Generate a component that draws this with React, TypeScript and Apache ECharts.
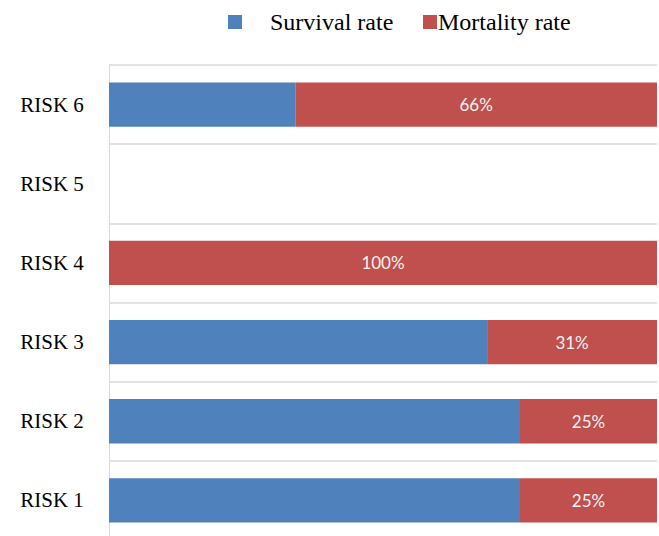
import React, { useEffect, useRef } from "react";
import * as echarts from "echarts";

const categories = ["RISK 1", "RISK 2", "RISK 3", "RISK 4", "RISK 5", "RISK 6"];
const survivalRate = [75, 75, 69, 0, null, 34];
const mortalityRate = [25, 25, 31, 100, null, 66];
const seriesNames = ["Survival rate", "Mortality rate"];

export default function App() {
  const ref = useRef<HTMLDivElement>(null);
  useEffect(() => {
    if (!ref.current) return;
    const chart = echarts.init(ref.current, undefined, { renderer: "svg" });
    chart.setOption({
      animation: false,
      backgroundColor: "#ffffff",
      legend: [
        {
          data: [seriesNames[0]],
          left: 228,
          top: 10,
          itemWidth: 14,
          itemHeight: 14,
          padding: 0,
          icon: "rect",
          textStyle: {
            fontFamily: "Liberation Serif",
            fontSize: 24,
            color: "#000000",
            padding: [0, 0, 0, 23],
          },
        },
        {
          data: [seriesNames[1]],
          left: 423,
          top: 10,
          itemWidth: 14,
          itemHeight: 14,
          padding: 0,
          icon: "rect",
          textStyle: {
            fontFamily: "Liberation Serif",
            fontSize: 24,
            color: "#000000",
            padding: [0, 0, 0, -4],
          },
        },
      ],
      grid: { left: 109, top: 65, width: 548, height: 475, containLabel: false },
      xAxis: {
        type: "value",
        min: 0,
        max: 100,
        show: false,
      },
      yAxis: {
        type: "category",
        data: categories,
        axisLine: { show: true, lineStyle: { color: "#d9d9d9", width: 1 } },
        axisTick: { show: false },
        splitLine: { show: true, lineStyle: { color: "#d9d9d9", width: 1.5 } },
        axisLabel: {
          fontFamily: "Liberation Serif",
          fontSize: 21,
          color: "#000000",
          align: "center",
          margin: 57,
        },
      },
      series: [
        {
          name: seriesNames[0],
          type: "bar",
          stack: "total",
          data: survivalRate,
          barWidth: "56%",
          itemStyle: { color: "#4f81bd" },
        },
        {
          name: seriesNames[1],
          type: "bar",
          stack: "total",
          data: mortalityRate,
          barWidth: "56%",
          itemStyle: { color: "#c0504d" },
          label: {
            show: true,
            position: "inside",
            formatter: (p: any) => (p.value == null ? "" : p.value + "%"),
            color: "#f2f2f2",
            fontFamily: "Lato",
            fontSize: 17,
          },
        },
      ],
    });
    return () => chart.dispose();
  }, []);
  return (
    <div
      ref={ref}
      style={{ position: "fixed", left: 0, top: 0, width: 670, height: 560 }}
    />
  );
}
